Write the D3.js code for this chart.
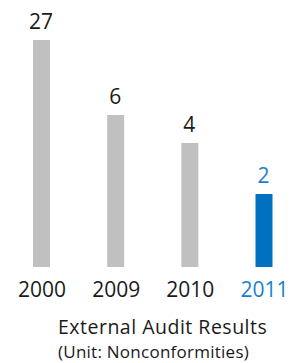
<!DOCTYPE html>
<html>
<head>
<meta charset="utf-8">
<script src="https://cdn.jsdelivr.net/npm/d3@7"></script>
<style>
  html, body { margin: 0; padding: 0; background: #fff; }
  svg { display: block; font-family: "Open Sans", "Noto Sans", sans-serif; }
</style>
</head>
<body>
<script>
// Data
const years = ["2000", "2009", "2010", "2011"];
const values = [27, 6, 4, 2];
const highlight = ["2011"];
const title = "External Audit Results";
const subtitle = "(Unit: Nonconformities)";

const W = 304, H = 363;
const baseline = 267;
const barW = 17;

const svg = d3.select("body").append("svg")
  .attr("width", W).attr("height", H);

const x = d3.scalePoint().domain(years).range([41.5, 264]);
// The reference uses a visually compressed (non-proportional) value axis
const y = d3.scaleLinear().domain([0, 2, 4, 6, 27]).range([baseline, 194, 143, 115, 40]);

const data = years.map((yr, i) => ({ year: yr, value: values[i], hi: highlight.includes(yr) }));

const grey = "#c0c0c0", blue = "#0070c0", blueText = "#1a80d4";

svg.selectAll("rect.bar").data(data).enter().append("rect")
  .attr("class", "bar")
  .attr("x", d => x(d.year) - barW / 2)
  .attr("y", d => y(d.value))
  .attr("width", barW)
  .attr("height", d => y(0) - y(d.value))
  .attr("fill", d => d.hi ? blue : grey);

svg.selectAll("text.val").data(data).enter().append("text")
  .attr("class", "val")
  .attr("x", d => x(d.year) - 0.5)
  .attr("y", d => y(d.value) - 11)
  .attr("text-anchor", "middle")
  .attr("font-size", 21)
  .attr("fill", d => d.hi ? blueText : "#1a1a1a")
  .text(d => d.value);

const axis = d3.axisBottom(x).tickSize(0).tickPadding(0);
const gAxis = svg.append("g").attr("transform", `translate(0, 297)`).call(axis);
gAxis.select(".domain").remove();
gAxis.selectAll(".tick text")
  .attr("y", 0).attr("dy", 0)
  .attr("font-size", 21)
  .attr("font-family", "\"Open Sans\", \"Noto Sans\", sans-serif")
  .attr("fill", d => highlight.includes(d) ? blueText : "#1a1a1a");

svg.append("text")
  .attr("x", 58).attr("y", 334)
  .attr("font-size", 19.5)
  .attr("letter-spacing", 0.5)
  .attr("fill", "#1a1a1a")
  .text(title);

svg.append("text")
  .attr("x", 58).attr("y", 358)
  .attr("font-size", 17)
  .attr("letter-spacing", 0.25)
  .attr("fill", "#1a1a1a")
  .text(subtitle);
</script>
</body>
</html>
